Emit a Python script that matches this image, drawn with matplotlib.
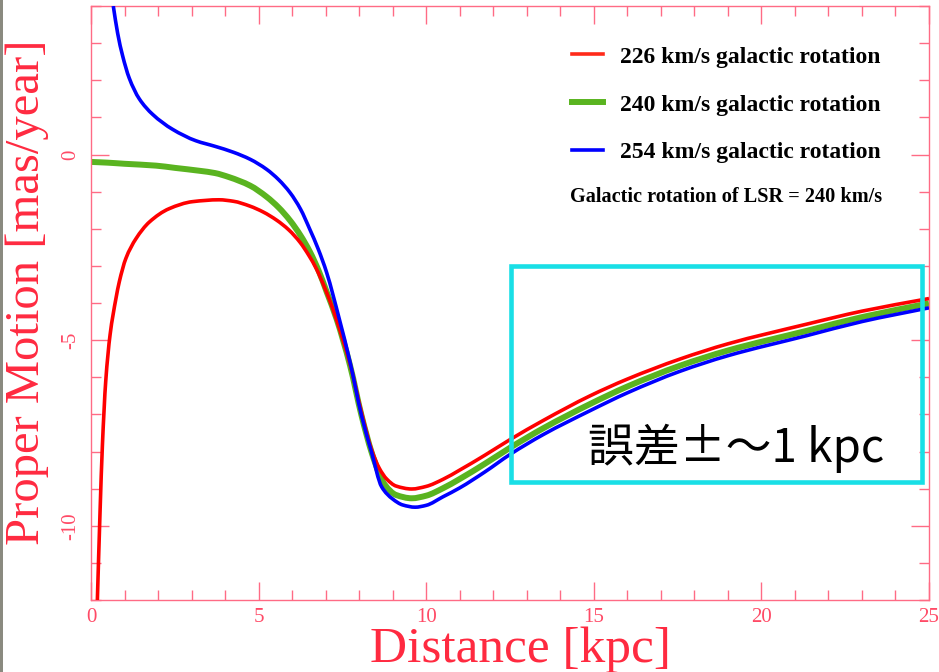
import matplotlib
matplotlib.use("Agg")
import numpy as np
import matplotlib.pyplot as plt
from matplotlib.patches import Rectangle, PathPatch
from matplotlib.path import Path
from matplotlib.lines import Line2D
from matplotlib.ticker import MultipleLocator

plt.rcParams['axes.unicode_minus'] = False

# ---- data ----
red_d = [0.19, 0.27, 0.34, 0.44, 0.57, 0.745, 0.844, 1.04, 1.34, 1.74, 2.33, 3.03, 3.82, 4.25, 4.74, 5.14,
         5.54, 5.90, 6.24, 6.50, 6.73, 7.00, 7.23, 7.50, 7.73, 8.07, 8.37, 8.60, 8.82, 9.10, 9.57,
         10.00, 10.50, 11.00, 11.75, 12.50, 13.50, 14.89, 16.00, 17.57, 19.00, 21.35, 23.00, 25.00]
red_v = [-12.0, -9.62, -7.84, -6.10, -4.85, -3.875, -3.43, -2.80, -2.27, -1.82, -1.46, -1.27, -1.22, -1.26, -1.39, -1.55,
         -1.77, -2.03, -2.37, -2.72, -3.09, -3.65, -4.20, -4.95, -5.65, -6.95, -7.95, -8.45, -8.74, -8.93, -9.01,
         -8.94, -8.75, -8.50, -8.10, -7.68, -7.16, -6.50, -6.05, -5.51, -5.10, -4.57, -4.22, -3.88]

green_d = [0.0, 0.5, 1.0, 1.94, 2.50, 3.25, 3.70, 4.12, 4.75, 5.24, 5.60, 5.94, 6.25, 6.53, 6.80, 7.03,
           7.33, 7.73, 8.07, 8.37, 8.60, 8.77, 9.10, 9.57, 10.00, 10.50, 11.00, 11.75, 12.50, 13.50,
           14.89, 16.00, 17.57, 19.00, 21.35, 23.00, 25.00]
green_v = [-0.20, -0.22, -0.25, -0.30, -0.36, -0.44, -0.50, -0.61, -0.84, -1.14, -1.43, -1.78, -2.18, -2.62, -3.15, -3.70,
           -4.44, -5.69, -7.03, -8.02, -8.60, -8.90, -9.17, -9.26, -9.19, -8.99, -8.74, -8.33, -7.90, -7.37,
           -6.72, -6.25, -5.69, -5.28, -4.75, -4.38, -4.01]

blue_d = [0.665, 0.794, 0.943, 1.14, 1.44, 1.84, 2.43, 3.13, 3.70, 4.25, 4.75,
          5.24, 5.60, 5.94, 6.25, 6.53, 6.78, 7.03, 7.41, 7.73, 8.07, 8.37, 8.67, 9.00, 9.30, 9.67,
          10.00, 10.50, 11.00, 11.75, 12.50, 13.50, 14.89, 16.00, 17.57, 19.00, 21.35, 23.00, 25.00]
blue_v = [4.00, 3.27, 2.66, 2.06, 1.50, 1.08, 0.68, 0.37, 0.22, 0.06, -0.13,
          -0.40, -0.68, -1.03, -1.47, -2.02, -2.55, -3.18, -4.44, -5.60, -7.03, -8.02, -8.95, -9.28, -9.44, -9.50,
          -9.45, -9.22, -8.98, -8.55, -8.08, -7.54, -6.90, -6.42, -5.84, -5.42, -4.88, -4.50, -4.13]

series_labels = ["226 km/s galactic rotation", "240 km/s galactic rotation", "254 km/s galactic rotation"]
series_colors = ["#ff0000", "#5ab420", "#0000ff"]
note_text = "Galactic rotation of LSR = 240 km/s"
box_text = "誤差±～1 kpc"
box_x = [12.53, 24.78]
box_y = [-8.82, -3.0]

x_ticks = [0, 5, 10, 15, 20, 25]
y_ticks = [-10, -5, 0]


def smooth_path(xs, ys):
    """Shape-preserving cubic Bezier path passing through the given points."""
    x = np.asarray(xs, float)
    y = np.asarray(ys, float)
    h = np.diff(x)
    d = np.diff(y) / h
    m = np.zeros_like(x)
    m[0], m[-1] = d[0], d[-1]
    for i in range(1, len(x) - 1):
        if d[i - 1] * d[i] <= 0:
            m[i] = 0.0
        else:
            w1 = 2 * h[i] + h[i - 1]
            w2 = h[i] + 2 * h[i - 1]
            m[i] = (w1 + w2) / (w1 / d[i - 1] + w2 / d[i])
    verts = [(x[0], y[0])]
    codes = [Path.MOVETO]
    for i in range(len(x) - 1):
        verts += [(x[i] + h[i] / 3, y[i] + m[i] * h[i] / 3),
                  (x[i + 1] - h[i] / 3, y[i + 1] - m[i + 1] * h[i] / 3),
                  (x[i + 1], y[i + 1])]
        codes += [Path.CURVE4] * 3
    return Path(verts, codes)


# ---- figure ----
W, H = 939, 672
fig = plt.figure(figsize=(W / 100, H / 100), dpi=100)
fig.patch.set_facecolor("white")
ax = fig.add_axes([91 / W, 1 - 600 / H, (929 - 91) / W, (600 - 6) / H])

frame_col = "#ff6b85"
tick_col = "#ff4a66"
lab_col = "#ff2a40"

for xs, ys, col, lw, z in [(red_d, red_v, series_colors[0], 2.6, 3),
                           (green_d, green_v, series_colors[1], 4.3, 2),
                           (blue_d, blue_v, series_colors[2], 2.6, 4)]:
    ax.add_patch(PathPatch(smooth_path(xs, ys), fill=False, edgecolor=col, lw=lw,
                           capstyle="butt", joinstyle="round", zorder=z))

ax.set_xlim(0, 25)
ax.set_ylim(-12, 4)
ax.set_xticks(x_ticks)
ax.set_yticks(y_ticks)
ax.xaxis.set_minor_locator(MultipleLocator(1))
ax.yaxis.set_minor_locator(MultipleLocator(1))
for s in ax.spines.values():
    s.set_color(frame_col)
    s.set_linewidth(1.0)
ax.tick_params(which="both", direction="in", top=True, right=True, color=frame_col, width=1.0)
ax.tick_params(which="major", length=13)
ax.tick_params(which="minor", length=7)
ax.tick_params(axis="x", labelsize=15, labelcolor=tick_col, pad=6)
ax.tick_params(axis="y", labelsize=15, labelcolor=tick_col, pad=8, labelrotation=90)
for lab in ax.get_xticklabels() + ax.get_yticklabels():
    lab.set_fontfamily("Liberation Serif")
for lab in ax.get_yticklabels():
    lab.set_va("center")

fig.text(520 / W, 1 - 650 / H, "Distance [kpc]", ha="center", va="center",
         fontsize=37, color=lab_col, family="Liberation Serif")
fig.text(27 / W, 1 - 292 / H, "Proper Motion [mas/year]", ha="center", va="center",
         rotation=90, fontsize=35, color=lab_col, family="Liberation Serif")

# legend
handles = [Line2D([], [], color="#ff2a1a", lw=2.6),
           Line2D([], [], color=series_colors[1], lw=4.3),
           Line2D([], [], color=series_colors[2], lw=2.6)]
leg = ax.legend(handles, series_labels, loc="upper left",
                bbox_to_anchor=(572 / W, 1 - 46 / H), bbox_transform=fig.transFigure,
                frameon=False, borderpad=0, borderaxespad=0, handlelength=1.3,
                handletextpad=0.75, labelspacing=1.12,
                prop={"family": "Liberation Serif", "weight": "bold", "size": 17})
ax.text(570 / W, 1 - 197 / H, note_text, transform=fig.transFigure, ha="left", va="center",
        fontsize=14.6, fontweight="bold", family="Liberation Serif", color="black")

# annotation box
ax.add_patch(Rectangle((box_x[0], box_y[0]), box_x[1] - box_x[0], box_y[1] - box_y[0],
                       fill=False, edgecolor="#19dfe6", lw=3.3, zorder=6, clip_on=False))
ax.text(14.83, -8.28, box_text, ha="left", va="baseline", fontsize=33, color="black",
        family=["Noto Sans CJK JP", "DejaVu Sans"], zorder=7)

# slide border strip on the left edge
fig.patches.append(Rectangle((0, 0), 3 / W, 1, transform=fig.transFigure,
                             facecolor="#8a8a80", edgecolor="none"))

fig.savefig("out.png", dpi=100)
